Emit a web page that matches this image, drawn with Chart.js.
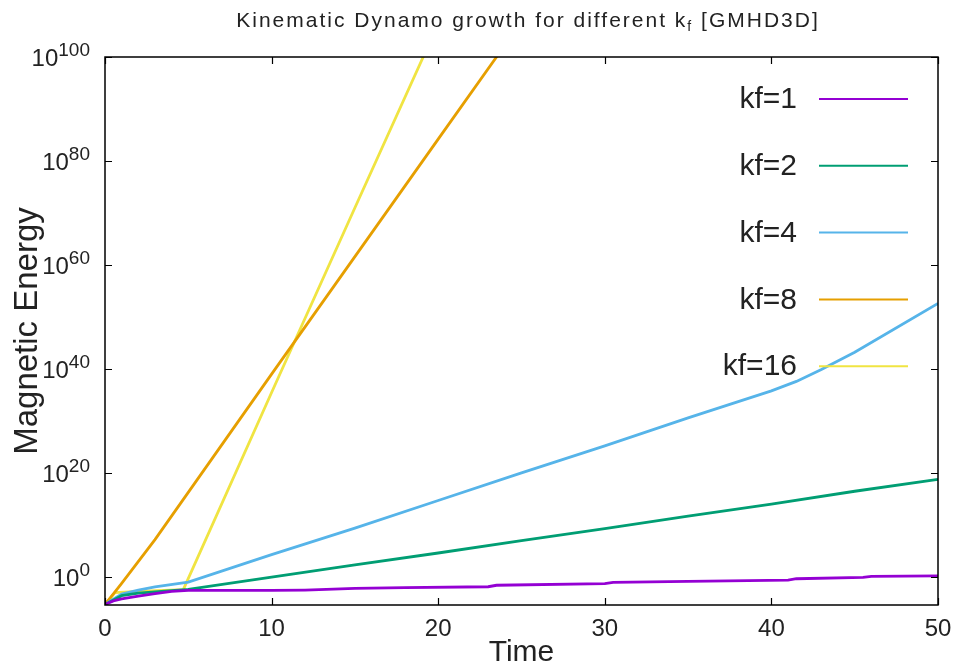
<!DOCTYPE html>
<html>
<head>
<meta charset="utf-8">
<script src="https://cdn.jsdelivr.net/npm/chart.js@4.4.1/dist/chart.umd.min.js"></script>
<style>
  html, body { margin: 0; padding: 0; background: #fff; }
  #wrap { width: 959px; height: 668px; position: relative; }
</style>
</head>
<body>
<div id="wrap"><canvas id="dynamoChart"></canvas></div>
<script>
// Zeitachsen und Energiewerte
const labels = ['kf=1', 'kf=2', 'kf=4', 'kf=8', 'kf=16'];
const colors = ['#9400d3', '#009e73', '#56b4e9', '#e69f00', '#f0e442'];

const timeKf1 = [0, 0.5, 1, 2, 3, 4, 5, 8, 10, 12, 15, 18, 23, 23.5, 30, 30.5, 35, 41, 41.5, 45.5, 46, 50];
const energyKf1 = [5e-6, 2.5e-5, 6e-5, 2e-4, 6e-4, 1.6e-3, 2.5e-3, 2.5e-3, 2.5e-3, 3e-3, 6e-3, 9e-3, 1.3e-2, 2.5e-2, 5e-2, 9e-2, 0.14, 0.25, 0.45, 0.8, 1.25, 1.6];

const timeKf2 = [0, 1, 2, 5, 10, 15, 20, 25, 30, 35, 40, 45, 50];
const energyKf2 = [5e-6, 2.5e-4, 8e-4, 4e-3, 0.9, 200, 4e4, 1e7, 2e9, 5e11, 1e14, 3e16, 6e18];

const timeKf4 = [0, 1, 2, 3, 5, 10, 15, 20, 25, 30, 35, 40, 41.5, 43, 45, 50];
const energyKf4 = [5e-6, 5e-4, 3e-3, 0.012, 0.1, 2e4, 2.5e9, 5e14, 1e20, 1.6e25, 4e30, 6e35, 4e37, 8e39, 1.6e43, 4e52];

const timeKf8 = [0, 1, 3, 10, 20, 23.5, 25];
const energyKf8 = [5e-6, 6e-2, 1.5e7, 1e39, 1.6e84, 1e100, 6e106];

const timeKf16 = [0, 0.6, 2, 4.7, 10, 15, 19.1, 20];
const energyKf16 = [5e-6, 1e-3, 1.6e-3, 3.5e-3, 3e35, 1e71, 1e100, 3e106];

const seriesTimes = [timeKf1, timeKf2, timeKf4, timeKf8, timeKf16];
const seriesValues = [energyKf1, energyKf2, energyKf4, energyKf8, energyKf16];

const yTickExponents = [0, 20, 40, 60, 80, 100];
const xTicks = [0, 10, 20, 30, 40, 50];

const textColor = '#222';
const fontFamily = '"Liberation Sans", Arial, sans-serif';

// Rahmen, Ticks, y-Beschriftung, Legende und Titel im gnuplot-Stil
const gnuplotLook = {
    id: 'gnuplotLook',
    afterDatasetsDraw(chart) {
        const ctx = chart.ctx;
        const { left, right, top, bottom } = chart.chartArea;
        const xs = chart.scales.x;
        const ys = chart.scales.y;
        ctx.save();

        // Rahmen
        ctx.strokeStyle = '#000';
        ctx.lineWidth = 1.5;
        ctx.strokeRect(left, top, right - left, bottom - top);

        // Ticks nach innen, gespiegelt
        ctx.lineWidth = 1.2;
        ctx.beginPath();
        xTicks.forEach(v => {
            const px = Math.round(xs.getPixelForValue(v)) + 0.5;
            ctx.moveTo(px, bottom); ctx.lineTo(px, bottom - 7);
            ctx.moveTo(px, top); ctx.lineTo(px, top + 7);
        });
        yTickExponents.forEach(e => {
            const py = Math.round(ys.getPixelForValue(Math.pow(10, e))) + 0.5;
            ctx.moveTo(left, py); ctx.lineTo(left + 7, py);
            ctx.moveTo(right, py); ctx.lineTo(right - 7, py);
        });
        ctx.stroke();

        // y-Beschriftung 10^n
        ctx.fillStyle = textColor;
        ctx.textBaseline = 'alphabetic';
        yTickExponents.forEach(e => {
            const py = ys.getPixelForValue(Math.pow(10, e));
            const expText = String(e);
            ctx.font = '19px ' + fontFamily;
            const w = ctx.measureText(expText).width;
            ctx.textAlign = 'left';
            ctx.fillText(expText, 90 - w, py - 1);
            ctx.font = '24px ' + fontFamily;
            ctx.textAlign = 'right';
            ctx.fillText('10', 90 - w, py + 9);
        });

        // Legende
        chart.data.datasets.forEach((ds, i) => {
            const ly = 99 + i * 66.8;
            ctx.font = '30px ' + fontFamily;
            ctx.textAlign = 'right';
            ctx.textBaseline = 'middle';
            ctx.fillStyle = textColor;
            ctx.fillText(ds.label, 797, ly + 1);
            ctx.strokeStyle = ds.borderColor;
            ctx.lineWidth = 2;
            ctx.beginPath();
            ctx.moveTo(819, ly);
            ctx.lineTo(908, ly);
            ctx.stroke();
        });

        // Titel mit tiefgestelltem f
        const part1 = 'Kinematic Dynamo growth for different k';
        const part2 = 'f';
        const part3 = ' [GMHD3D]';
        ctx.textBaseline = 'alphabetic';
        ctx.textAlign = 'left';
        ctx.fillStyle = textColor;
        ctx.letterSpacing = '2px';
        ctx.font = '21px ' + fontFamily;
        const w1 = ctx.measureText(part1).width;
        const w3 = ctx.measureText(part3).width;
        ctx.font = '14px ' + fontFamily;
        const w2 = ctx.measureText(part2).width;
        let tx = 528 - (w1 + w2 + w3) / 2;
        ctx.font = '21px ' + fontFamily;
        ctx.fillText(part1, tx, 27);
        ctx.font = '14px ' + fontFamily;
        ctx.fillText(part2, tx + w1, 31);
        ctx.font = '21px ' + fontFamily;
        ctx.fillText(part3, tx + w1 + w2, 27);
        ctx.letterSpacing = '0px';

        ctx.restore();
    }
};

document.addEventListener('DOMContentLoaded', function() {
    const datasets = labels.map((label, i) => ({
        label: label,
        data: seriesTimes[i].map((t, j) => ({ x: t, y: seriesValues[i][j] })),
        borderColor: colors[i],
        backgroundColor: colors[i],
        borderWidth: 2.8,
        pointRadius: 0,
        tension: 0,
        fill: false
    }));

    const ctx = document.getElementById('dynamoChart').getContext('2d');
    new Chart(ctx, {
        type: 'line',
        data: { datasets: datasets },
        options: {
            responsive: true,
            maintainAspectRatio: false,
            animation: false,
            layout: { padding: { top: 57, right: 21, left: 0, bottom: 0 } },
            plugins: {
                legend: { display: false },
                tooltip: { enabled: false }
            },
            scales: {
                x: {
                    type: 'linear',
                    min: 0,
                    max: 50,
                    afterFit: s => { s.height = 63; },
                    afterBuildTicks: s => { s.ticks = xTicks.map(v => ({ value: v })); },
                    grid: { display: false },
                    border: { display: false },
                    ticks: {
                        color: textColor,
                        padding: 2,
                        maxRotation: 0,
                        font: { family: fontFamily, size: 24 }
                    },
                    title: {
                        display: true,
                        text: 'Time',
                        color: textColor,
                        padding: { top: 0, bottom: 0 },
                        font: { family: fontFamily, size: 30, lineHeight: 1.0 }
                    }
                },
                y: {
                    type: 'logarithmic',
                    min: 3.98e-6,
                    max: 1e100,
                    afterFit: s => { s.width = 105; },
                    afterBuildTicks: s => { s.ticks = yTickExponents.map(e => ({ value: Math.pow(10, e) })); },
                    grid: { display: false },
                    border: { display: false },
                    ticks: { callback: () => '' },
                    title: {
                        display: true,
                        text: 'Magnetic Energy',
                        color: textColor,
                        padding: { top: 8, bottom: 0 },
                        font: { family: fontFamily, size: 33, lineHeight: 1.2 }
                    }
                }
            }
        },
        plugins: [gnuplotLook]
    });
});
</script>
</body>
</html>
